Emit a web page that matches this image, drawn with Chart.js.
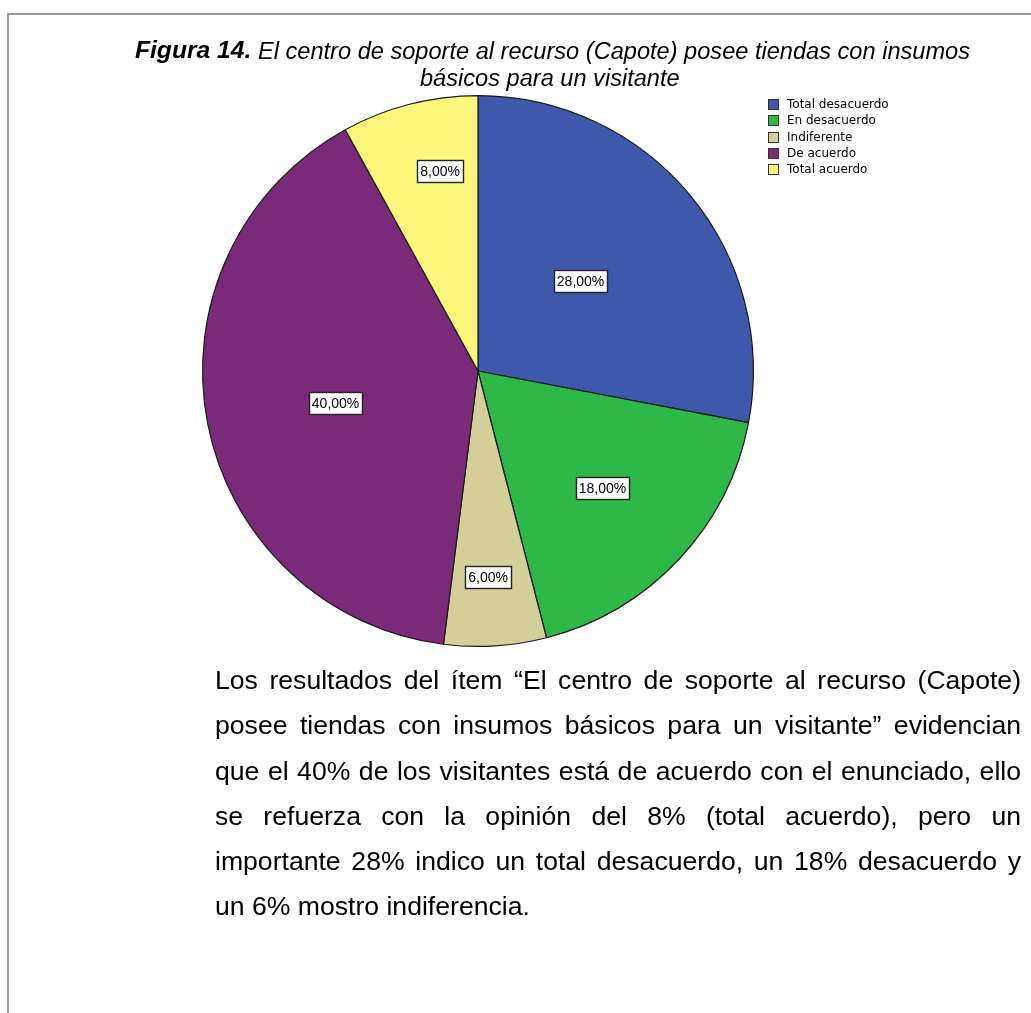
<!DOCTYPE html>
<html>
<head>
<meta charset="utf-8">
<script src="https://cdn.jsdelivr.net/npm/chart.js@4/dist/chart.umd.min.js"></script>
<style>
  html, body { margin: 0; padding: 0; background: #fff; }
  body { width: 1031px; height: 1013px; position: relative; overflow: hidden; }
  #frameTop { position: absolute; left: 7px; top: 13px; width: 1024px; height: 2px; background: #9a9a9a; }
  #frameLeft { position: absolute; left: 7px; top: 13px; width: 2px; height: 1000px; background: #9a9a9a; }
  #chart { position: absolute; left: 0; top: 0; }
  .title { position: absolute; white-space: nowrap; font-family: "Liberation Sans", Arial, sans-serif; font-style: italic; font-size: 23px; color: #000; line-height: 24px; transform-origin: 0 0; }
  #tb { font-weight: bold; font-size: 24px; top: 38px; left: 150px; }
  #t1 { left: 258px; top: 39px; }
  #t2 { left: 420px; top: 66px; }
  #para { position: absolute; left: 215px; top: 658px; width: 806px; font-family: "Liberation Sans", Arial, sans-serif; font-size: 26.6px; line-height: 45.3px; color: #000; }
  #para div { text-align: justify; text-align-last: justify; white-space: nowrap; }
  #para div.last { text-align-last: left; }
</style>
</head>
<body>
<div id="frameTop"></div>
<div id="frameLeft"></div>
<canvas id="chart" width="1031" height="1013"></canvas>
<div class="title" id="tb">Figura 14.</div>
<div class="title" id="t1">El centro de soporte al recurso (Capote) posee tiendas con insumos</div>
<div class="title" id="t2">básicos para un visitante</div>
<div id="para">
<div>Los resultados del ítem “El centro de soporte al recurso (Capote)</div>
<div>posee tiendas con insumos básicos para un visitante” evidencian</div>
<div>que el 40% de los visitantes está de acuerdo con el enunciado, ello</div>
<div>se refuerza con la opinión del 8% (total acuerdo), pero un</div>
<div>importante 28% indico un total desacuerdo, un 18% desacuerdo y</div>
<div class="last">un 6% mostro indiferencia.</div>
</div>
<script>
const categories = ["Total desacuerdo", "En desacuerdo", "Indiferente", "De acuerdo", "Total acuerdo"];
const percentages = [28, 18, 6, 40, 8];
const sliceColors = ["#3E58AC", "#2EB848", "#D4CF99", "#7B2A7A", "#FCF77A"];

// fit the title lines to their widths in the original figure
(function () {
  const t1 = document.getElementById("t1");
  const t2 = document.getElementById("t2");
  const tb = document.getElementById("tb");
  const s = 712 / t1.getBoundingClientRect().width;
  t1.style.transform = "scaleX(" + s + ")";
  t2.style.transform = "scaleX(" + s + ")";
  const wb = tb.getBoundingClientRect().width * s;
  tb.style.transform = "scaleX(" + s + ")";
  tb.style.left = (251 - wb) + "px";
})();

const labelPlacement = {
  radius: [0.495, 0.62, 0.75, 0.53, 0.74],
  angleShiftDeg: [-1.6, 0, 0.8, -1.8, 3.7]
};

const pieLabels = {
  id: "pieLabels",
  afterDatasetsDraw(chart) {
    const ctx = chart.ctx;
    const meta = chart.getDatasetMeta(0);
    ctx.save();
    ctx.font = "14px 'Liberation Sans', Arial, sans-serif";
    ctx.textAlign = "center";
    ctx.textBaseline = "middle";
    meta.data.forEach((arc, i) => {
      const mid = (arc.startAngle + arc.endAngle) / 2 + labelPlacement.angleShiftDeg[i] * Math.PI / 180;
      const r = arc.outerRadius * labelPlacement.radius[i];
      const x = arc.x + Math.cos(mid) * r;
      const y = arc.y + Math.sin(mid) * r;
      const txt = percentages[i].toFixed(2).replace(".", ",") + "%";
      const w = Math.round(ctx.measureText(txt).width + 6);
      const h = 22;
      const bx = Math.round(x - w / 2) + 0.5, by = Math.round(y - h / 2) + 0.5;
      ctx.fillStyle = "#fff";
      ctx.fillRect(bx, by, w, h);
      ctx.strokeStyle = "#222";
      ctx.lineWidth = 1.4;
      ctx.strokeRect(bx, by, w, h);
      ctx.fillStyle = "#000";
      ctx.fillText(txt, x, y + 1);
    });
    ctx.restore();
  }
};

const sideLegend = {
  id: "sideLegend",
  afterDraw(chart) {
    const ctx = chart.ctx;
    ctx.save();
    ctx.font = "12px 'DejaVu Sans', sans-serif";
    ctx.textBaseline = "middle";
    ctx.textAlign = "left";
    const x0 = 768, y0 = 104, step = 16.3;
    categories.forEach((c, i) => {
      const y = y0 + i * step;
      ctx.fillStyle = sliceColors[i];
      ctx.fillRect(x0 + 0.5, Math.round(y - 5) + 0.5, 10, 10);
      ctx.strokeStyle = "#333";
      ctx.lineWidth = 1;
      ctx.strokeRect(x0 + 0.5, Math.round(y - 5) + 0.5, 10, 10);
      ctx.fillStyle = "#000";
      ctx.fillText(c, x0 + 19, y + 1);
    });
    ctx.restore();
  }
};

new Chart(document.getElementById("chart"), {
  type: "pie",
  data: {
    labels: categories,
    datasets: [{
      data: percentages,
      backgroundColor: sliceColors,
      borderColor: "#1a1a1a",
      borderWidth: 1.2
    }]
  },
  options: {
    responsive: false,
    animation: false,
    devicePixelRatio: 1,
    layout: { padding: { left: 201, right: 276, top: 95, bottom: 366 } },
    plugins: {
      legend: { display: false },
      tooltip: { enabled: false },
      title: { display: false }
    }
  },
  plugins: [pieLabels, sideLegend]
});
</script>
</body>
</html>
